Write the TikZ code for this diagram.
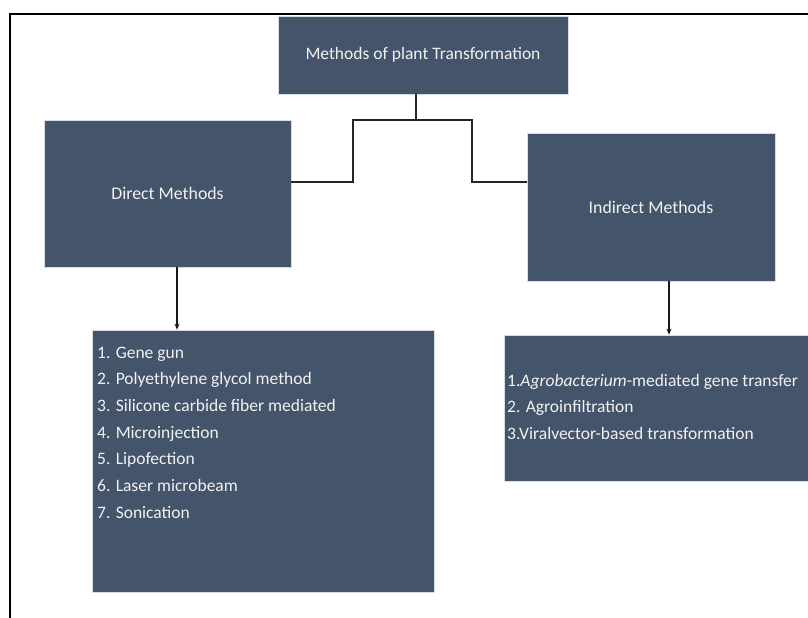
\documentclass[tikz,border=0pt]{standalone}
\usepackage{fontspec}
\setmainfont{Carlito}
\usetikzlibrary{arrows.meta,calc}
\definecolor{boxfill}{HTML}{44546A}
\definecolor{boxedge}{HTML}{D6DCE5}
\definecolor{boxtext}{HTML}{F2F2F2}
\tikzset{
  box/.style={fill=boxfill,draw=boxedge,line width=0.6pt,inner sep=0pt,
    text=boxtext,font=\fontsize{17.5}{20}\selectfont},
  item/.style={anchor=base west,inner sep=0pt,text=boxtext,font=\fontsize{17.5}{20}\selectfont},
  link/.style={line width=1.4pt,black!85},
  arr/.style={line width=1.4pt,black!90,-{Stealth[length=6pt,width=5pt]}}
}
\begin{document}
\begin{tikzpicture}[x=1pt,y=-1pt]
\useasboundingbox (0,0) rectangle (808,618);
\fill[white] (0,0) rectangle (808,618);
% frame
\draw[line width=1.5pt,black] (10,620) -- (10,14) -- (812,14);
% boxes
\node[box,minimum width=290pt,minimum height=78pt] (top) at (423,55) {Methods of plant Transformation};
\node[box,minimum width=247pt,minimum height=147pt,font=\fontsize{17.8}{20}\selectfont] (direct) at (167.5,193.5) {Direct Methods};
\node[box,minimum width=248pt,minimum height=148pt,font=\fontsize{17.8}{20}\selectfont] (indirect) at (651,207) {Indirect Methods};
\node[box,minimum width=342pt,minimum height=262pt] (dlist) at (263,461) {};
\node[box,minimum width=310pt,minimum height=146pt] (ilist) at (659,408) {};
% connectors
\coordinate (jt) at (416,120);
\coordinate (jl) at (353,120);
\coordinate (jr) at (472,120);
\coordinate (jy) at (0,182);
\draw[link] (top.south -| jt) -- (jt);
\draw[link] (direct.east |- jy) -| (jl) -- (jr) |- (indirect.west |- jy);
\coordinate (da) at (177,0);
\coordinate (ia) at (669,0);
\draw[arr] (direct.south -| da) -- (dlist.north -| da);
\draw[arr] (indirect.south -| ia) -- (ilist.north -| ia);
% direct list
\node[item] (d1) at (97,358) {1. Gene gun};
\node[item] (d2) at (97,384.7) {2. Polyethylene glycol method};
\node[item] (d3) at (97,411.4) {3. Silicone carbide fiber mediated};
\node[item] (d4) at (97,438.1) {4. Microinjection};
\node[item] (d5) at (97,464.8) {5. Lipofection};
\node[item] (d6) at (97,491.5) {6. Laser microbeam};
\node[item] (d7) at (97,518.2) {7. Sonication};
% indirect list
\node[item] (i1) at (507,386) {1.\textit{Agrobacterium}-mediated gene transfer};
\node[item] (i2) at (507,412.5) {2. Agroinfiltration};
\node[item] (i3) at (507,439) {3.Viralvector-based transformation};
\end{tikzpicture}
\end{document}
